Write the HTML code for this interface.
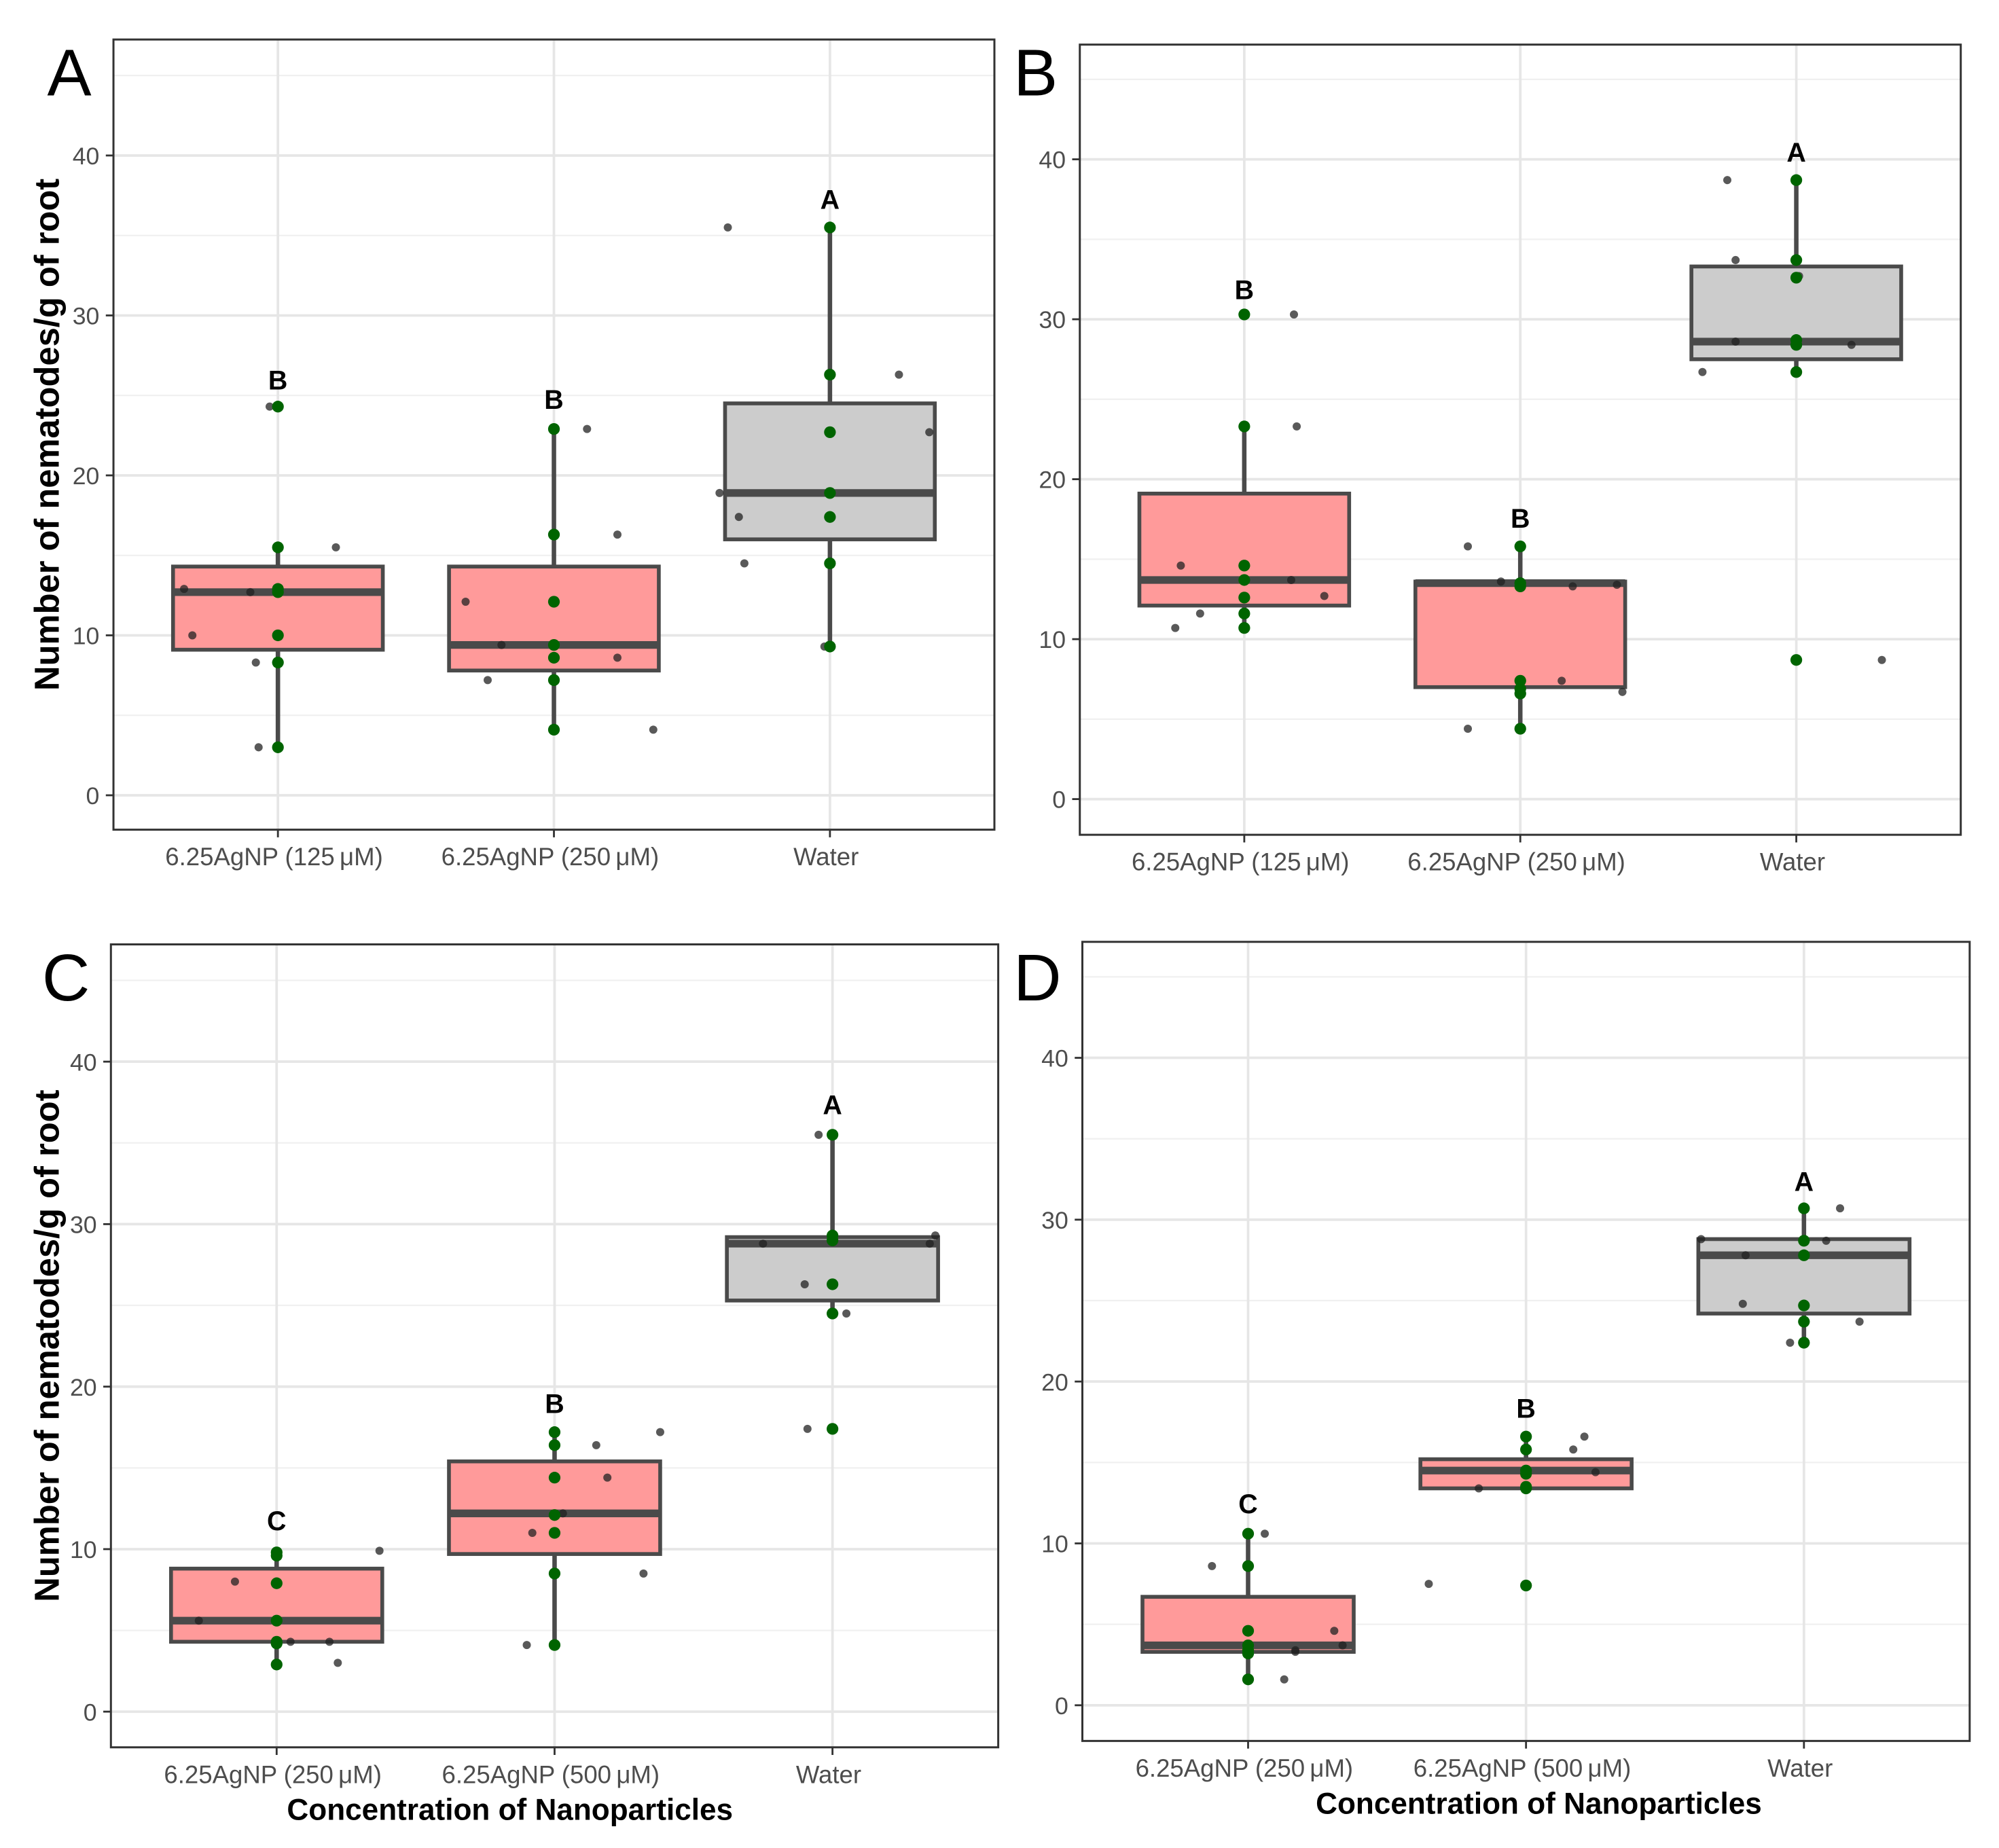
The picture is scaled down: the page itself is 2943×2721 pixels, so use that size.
<!DOCTYPE html>
<html><head><meta charset="utf-8"><style>
html,body{margin:0;padding:0;background:#fff}
svg{display:block}
text{font-family:"Liberation Sans",sans-serif}
</style></head><body>
<svg id="fig" width="2943" height="2721" viewBox="0 0 1568 1450" preserveAspectRatio="none" xmlns="http://www.w3.org/2000/svg"></svg>
<script>
// ---- data ----
const catsAB = ["6.25AgNP (125\u2009\u03bcM)", "6.25AgNP (250\u2009\u03bcM)", "Water"];
const catsCD = ["6.25AgNP (250\u2009\u03bcM)", "6.25AgNP (500\u2009\u03bcM)", "Water"];
const yTicks = [0, 10, 20, 30, 40];
// box stats: [whiskerLow, q1, median, q3, whiskerHigh]
const boxA = [[3,9.1,12.7,14.3,15.5],[4.1,7.8,9.4,14.3,22.9],[9.3,16,18.9,24.5,35.5]];
const boxB = [[10.7,12.1,13.7,19.1,23.3],[4.4,7,13.5,13.6,15.8],[26.7,27.5,28.6,33.3,38.7]];
const boxC = [[2.9,4.3,5.6,8.8,9.8],[4.1,9.7,12.2,15.4,17.2],[24.5,25.3,28.8,29.2,35.5]];
const boxD = [[1.6,3.3,3.7,6.7,10.6],[13.4,13.4,14.5,15.2,16.6],[22.4,24.2,27.8,28.8,30.7]];
const greenA = [[24.3,15.5,12.9,12.7,10,8.3,3],[22.9,16.3,12.1,9.4,8.6,7.2,4.1],[35.5,26.3,22.7,18.9,17.4,14.5,9.3]];
const greenB = [[30.3,23.3,14.6,13.7,12.6,11.6,10.7],[15.8,13.5,13.3,7.4,6.9,6.6,4.4],[38.7,33.7,32.6,28.7,28.4,26.7,8.7]];
const greenC = [[9.8,9.6,7.9,5.6,4.3,4.2,2.9],[17.2,16.4,14.4,12.1,11.0,8.5,4.1],[35.5,29.3,29,26.3,24.5,17.4]];
const greenD = [[10.6,8.6,4.6,3.7,3.4,3.2,1.6],[16.6,15.8,14.5,14.3,13.5,13.4,7.4],[30.7,28.7,27.8,24.7,23.7,22.4]];
const jitValA = [[24.3,15.5,12.9,12.7,10,8.3,3],[22.9,16.3,12.1,9.4,8.6,7.2,4.1],[35.5,26.3,22.7,18.9,17.4,14.5,9.3]];
const jitOffA = [[-0.03,0.21,-0.34,-0.10,-0.31,-0.08,-0.07],[0.12,0.23,-0.32,-0.19,0.23,-0.24,0.36],[-0.37,0.25,0.36,-0.40,-0.33,-0.31,-0.02]];
const jitValB = [[30.3,30.3,23.3,14.6,13.7,12.7,11.6,10.7],[15.8,13.6,13.3,13.4,7.4,6.7,4.4],[38.7,33.7,32.7,28.6,28.4,26.7,8.7]];
const jitOffB = [[0,0.18,0.19,-0.23,0.17,0.29,-0.16,-0.25],[-0.19,-0.07,0.19,0.35,0.15,0.37,-0.19],[-0.25,-0.22,0.01,-0.22,0.2,-0.34,0.31]];
const jitValC = [[9.9,8.0,5.6,4.3,4.3,3.0,9.6],[17.2,16.4,14.4,12.2,11.0,8.5,4.1],[35.5,28.8,29.3,28.8,26.3,24.5,17.4]];
const jitOffC = [[0.37,-0.15,-0.28,0.05,0.19,0.22,0],[0.38,0.15,0.19,0.03,-0.08,0.32,-0.1],[-0.05,-0.25,0.37,0.35,-0.1,0.05,-0.09]];
const jitValD = [[10.6,8.6,4.6,3.7,3.4,3.3,1.6],[16.6,15.8,14.4,13.4,13.4,7.5,7.4],[30.7,28.7,28.8,27.8,24.8,23.7,22.4]];
const jitOffD = [[0.06,-0.13,0.31,0.34,0.17,0.17,0.13],[0.21,0.17,0.25,-0.17,0,-0.35,0],[0.13,0.08,-0.37,-0.21,-0.22,0.2,-0.05]];
const lettersA = ["B","B","A"], lettersB = ["B","B","A"], lettersC = ["C","B","A"], lettersD = ["C","B","A"];
const letterValA = [26, 24.8, 37.3], letterValB = [31.9, 17.6, 40.5], letterValC = [11.8, 19, 37.4], letterValD = [12.5, 18.4, 32.4];

// ---- layout ----
const panels = [
 {id:"A", x0:89,x1:780,y0:31,y1:651, zeroY:624, per:12.55, cx:218, step:216.5, cats:catsAB, box:boxA, green:greenA, jv:jitValA, jo:jitOffA, let:lettersA, lv:letterValA, lx:37, ly:75, ytitle:true, xtitle:false},
 {id:"B", x0:847,x1:1538,y0:35,y1:655, zeroY:627, per:12.55, cx:976, step:216.5, cats:catsAB, box:boxB, green:greenB, jv:jitValB, jo:jitOffB, let:lettersB, lv:letterValB, lx:795, ly:75, ytitle:false, xtitle:false},
 {id:"C", x0:87,x1:783,y0:741,y1:1371, zeroY:1343, per:12.75, cx:217, step:218, cats:catsCD, box:boxC, green:greenC, jv:jitValC, jo:jitOffC, let:lettersC, lv:letterValC, lx:33, ly:785, ytitle:true, xtitle:true},
 {id:"D", x0:849,x1:1545,y0:739,y1:1366, zeroY:1338, per:12.7, cx:979, step:218, cats:catsCD, box:boxD, green:greenD, jv:jitValD, jo:jitOffD, let:lettersD, lv:letterValD, lx:795, ly:785, ytitle:false, xtitle:true}
];
const NS="http://www.w3.org/2000/svg";
const svg=document.getElementById("fig");
function mk(tag,attrs,parent,txt){const e=document.createElementNS(NS,tag);for(const k in attrs)e.setAttribute(k,attrs[k]);if(txt!==undefined)e.textContent=txt;(parent||svg).appendChild(e);return e;}

panels.forEach(p=>{
 const g=mk("g",{});
 
 
 const Y=v=>p.zeroY-v*p.per;
 const X=(i,o)=>p.cx+(i+(o||0))*p.step;
 for(let v=5;v<=45;v+=10){const yy=Y(v);if(yy>p.y0&&yy<p.y1){const l=mk("line",{x1:p.x0,x2:p.x1,y1:yy,y2:yy,stroke:"#f0f0f0","stroke-width":1.2},g);}}
 yTicks.forEach(v=>{const l=mk("line",{x1:p.x0,x2:p.x1,y1:Y(v),y2:Y(v),stroke:"#e6e6e6","stroke-width":2},g);});
 p.cats.forEach((c,i)=>{const l=mk("line",{x1:X(i),x2:X(i),y1:p.y0,y2:p.y1,stroke:"#e6e6e6","stroke-width":2},g);});
 yTicks.forEach(v=>{
  const t=mk("line",{x1:p.x0-6,x2:p.x0,y1:Y(v),y2:Y(v),stroke:"#333","stroke-width":1.5},g);
  
  const lb=mk("text",{x:p.x0-11,y:Y(v)+7,"text-anchor":"end","font-size":19,fill:"#4d4d4d"},g,String(v));
  
 });
 p.cats.forEach((c,i)=>{
  const t=mk("line",{x1:X(i),x2:X(i),y1:p.y1,y2:p.y1+6,stroke:"#333","stroke-width":1.5},g);
  
  const lb=mk("text",{x:X(i)-3,y:p.y1+28,"text-anchor":"middle","font-size":19.5,fill:"#4d4d4d"},g,c);
  
 });
 p.box.forEach((b,i)=>{
  const hw=0.38*p.step, cx=X(i);
  const w=mk("line",{x1:cx,x2:cx,y1:Y(b[0]),y2:Y(b[4]),stroke:"#4a4a4a","stroke-width":3.5},g);
  
  const fill=i===2?"#cccccc":"#ff9a9a";
  const r=mk("rect",{x:cx-hw,y:Y(b[3]),width:2*hw,height:Y(b[1])-Y(b[3]),fill:fill,stroke:"#4a4a4a","stroke-width":3},g);
  
  const m=mk("line",{x1:cx-hw,x2:cx+hw,y1:Y(b[2]),y2:Y(b[2]),stroke:"#4a4a4a","stroke-width":6},g);
  
 });
 p.jv.forEach((arr,i)=>arr.forEach((v,k)=>{
  const c=mk("circle",{cx:X(i,p.jo[i][k]),cy:Y(v),r:3.2,fill:"#222","fill-opacity":0.75},g);
  
 }));
 p.green.forEach((arr,i)=>arr.forEach(v=>{
  const c=mk("circle",{cx:X(i),cy:Y(v),r:4.6,fill:"#006400"},g);
  
 }));
 p.let.forEach((s,i)=>{
  const t=mk("text",{x:X(i),y:Y(p.lv[i])+8,"text-anchor":"middle","font-size":21,"font-weight":"bold",fill:"#000"},g,s);
  
 });
 const f=mk("rect",{x:p.x0,y:p.y0,width:p.x1-p.x0,height:p.y1-p.y0,fill:"none",stroke:"#333","stroke-width":1.6},g);
 
 const pl=mk("text",{x:p.lx,y:p.ly,"font-size":52,fill:"#000"},g,p.id);
 
 if(p.ytitle){
  const cy=(p.y0+p.y1)/2;
  const yt=mk("text",{x:0,y:0,transform:`translate(46,${cy}) rotate(-90)`,"text-anchor":"middle","font-size":27,"font-weight":"bold",fill:"#000"},g,"Number of nematodes/g of root");
  
 }
 if(p.xtitle){
  const xt=mk("text",{x:(p.x0+p.x1)/2+(p.id==="C"?-35:10),y:p.y1+57,"text-anchor":"middle","font-size":23.5,"font-weight":"bold",fill:"#000"},g,"Concentration of Nanoparticles");
  
 }
});
</script>
</body></html>
